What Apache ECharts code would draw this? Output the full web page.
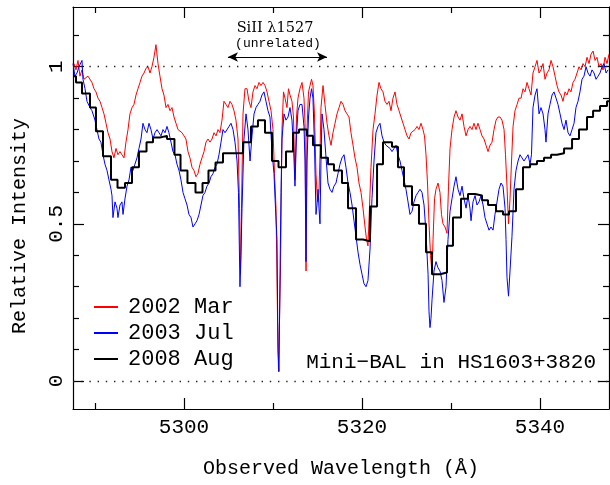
<!DOCTYPE html>
<html><head><meta charset="utf-8">
<script src="https://cdn.jsdelivr.net/npm/echarts@6/dist/echarts.min.js"></script>
<style>html,body{margin:0;padding:0;background:#fff}#c{width:610px;height:485px}</style>
</head><body><div id="c"></div>
<script>
// ---- axis ranges and ticks ----
const xMin = 5287.53, xMax = 5347.75;
const yMin = -0.089, yMax = 1.19;
const xMajor = [5300, 5320, 5340];
const xMinor = [5290, 5310, 5330];
const yMajor = [0, 0.5, 1];
const yMinor = [0.1, 0.2, 0.3, 0.4, 0.6, 0.7, 0.8, 0.9, 1.1];
const refLevels = [0, 1];
const seriesNames = ['2002 Mar', '2003 Jul', '2008 Aug'];
const siiiSpan = [5304.94, 5316.07];
const siiiLevel = 1.031;

// ---- spectra: [wavelength (Å), relative intensity] ----
const mar2002 = [[5287.64,1.01],[5287.87,0.99],[5288.09,1.02],[5288.31,0.97],[5288.54,0.99],[5288.76,0.96],[5289.21,0.97],[5289.66,0.95],[5289.89,0.93],[5290.11,0.92],[5290.34,0.90],[5290.56,0.89],[5290.79,0.87],[5291.01,0.85],[5291.24,0.82],[5291.46,0.79],[5291.69,0.77],[5291.91,0.73],[5292.13,0.71],[5292.36,0.74],[5292.58,0.72],[5292.81,0.73],[5293.03,0.72],[5293.26,0.71],[5293.48,0.76],[5293.71,0.80],[5293.93,0.85],[5294.16,0.87],[5294.38,0.88],[5294.61,0.91],[5294.83,0.93],[5295.06,0.95],[5295.28,0.97],[5295.51,0.98],[5295.73,0.995],[5295.96,1.00],[5296.18,0.98],[5296.40,1.00],[5296.63,1.03],[5296.85,1.07],[5297.08,1.01],[5297.30,0.97],[5297.53,0.93],[5297.75,0.91],[5297.98,0.87],[5298.20,0.88],[5298.43,0.86],[5298.65,0.87],[5298.88,0.84],[5299.10,0.82],[5299.33,0.80],[5299.55,0.80],[5299.78,0.79],[5300.00,0.78],[5300.22,0.77],[5300.45,0.73],[5300.67,0.71],[5300.90,0.68],[5301.12,0.67],[5301.35,0.65],[5301.57,0.66],[5301.80,0.69],[5302.02,0.71],[5302.25,0.73],[5302.47,0.76],[5302.70,0.77],[5302.92,0.76],[5303.15,0.77],[5303.37,0.79],[5303.60,0.78],[5303.82,0.80],[5304.04,0.79],[5304.27,0.83],[5304.49,0.89],[5304.72,0.88],[5304.94,0.87],[5305.17,0.89],[5305.39,0.88],[5305.62,0.86],[5305.84,0.83],[5306.07,0.77],[5306.24,0.55],[5306.35,0.34],[5306.46,0.55],[5306.63,0.85],[5306.85,0.93],[5307.08,0.93],[5307.30,0.89],[5307.53,0.87],[5307.75,0.92],[5307.98,0.94],[5308.20,0.93],[5308.43,0.95],[5308.65,0.94],[5308.88,0.95],[5309.10,0.94],[5309.33,0.92],[5309.55,0.89],[5309.78,0.86],[5310.00,0.80],[5310.17,0.66],[5310.34,0.55],[5310.51,0.20],[5310.62,0.03],[5310.73,0.03],[5310.84,0.35],[5311.01,0.80],[5311.18,0.92],[5311.35,0.90],[5311.57,0.87],[5311.74,0.93],[5311.91,0.91],[5312.13,0.89],[5312.30,0.84],[5312.47,0.64],[5312.64,0.84],[5312.81,0.90],[5313.03,0.93],[5313.26,0.95],[5313.48,0.90],[5313.60,0.82],[5313.71,0.35],[5313.82,0.80],[5313.99,0.92],[5314.16,0.94],[5314.33,0.96],[5314.49,0.94],[5314.66,0.85],[5314.83,0.66],[5315.00,0.57],[5315.17,0.60],[5315.28,0.72],[5315.39,0.87],[5315.62,0.94],[5315.84,0.88],[5316.07,0.82],[5316.29,0.78],[5316.52,0.75],[5316.74,0.79],[5316.97,0.82],[5317.19,0.85],[5317.42,0.87],[5317.64,0.89],[5317.87,0.88],[5318.09,0.86],[5318.31,0.85],[5318.54,0.84],[5318.76,0.79],[5318.99,0.75],[5319.21,0.71],[5319.44,0.68],[5319.66,0.63],[5319.89,0.60],[5320.11,0.55],[5320.34,0.49],[5320.51,0.45],[5320.67,0.43],[5320.84,0.55],[5321.01,0.68],[5321.24,0.80],[5321.46,0.85],[5321.69,0.91],[5321.91,0.95],[5322.13,0.93],[5322.36,0.92],[5322.58,0.89],[5322.81,0.88],[5323.03,0.89],[5323.26,0.86],[5323.48,0.90],[5323.71,0.92],[5323.93,0.88],[5324.16,0.86],[5324.38,0.84],[5324.61,0.82],[5324.83,0.80],[5325.06,0.78],[5325.28,0.77],[5325.51,0.79],[5325.73,0.79],[5325.96,0.80],[5326.18,0.81],[5326.40,0.80],[5326.63,0.82],[5326.85,0.80],[5327.02,0.78],[5327.19,0.72],[5327.36,0.63],[5327.53,0.50],[5327.70,0.40],[5327.87,0.34],[5327.98,0.45],[5328.15,0.58],[5328.31,0.61],[5328.54,0.63],[5328.76,0.60],[5328.93,0.53],[5329.10,0.50],[5329.33,0.49],[5329.55,0.47],[5329.72,0.62],[5329.89,0.74],[5330.11,0.80],[5330.34,0.84],[5330.56,0.86],[5330.79,0.84],[5331.01,0.83],[5331.24,0.85],[5331.46,0.81],[5331.69,0.78],[5331.91,0.80],[5332.13,0.81],[5332.36,0.80],[5332.58,0.82],[5332.81,0.80],[5333.03,0.82],[5333.26,0.80],[5333.48,0.78],[5333.71,0.77],[5333.93,0.75],[5334.16,0.73],[5334.38,0.75],[5334.61,0.76],[5334.83,0.80],[5335.06,0.83],[5335.28,0.84],[5335.51,0.84],[5335.73,0.83],[5335.96,0.80],[5336.12,0.72],[5336.29,0.62],[5336.46,0.50],[5336.63,0.58],[5336.80,0.70],[5336.97,0.81],[5337.19,0.86],[5337.42,0.88],[5337.64,0.90],[5337.87,0.90],[5338.09,0.93],[5338.31,0.92],[5338.54,0.95],[5338.76,0.93],[5338.99,0.91],[5339.21,0.98],[5339.44,1.00],[5339.66,1.02],[5339.89,0.98],[5340.11,0.99],[5340.34,1.01],[5340.56,0.96],[5340.79,0.98],[5341.01,0.99],[5341.24,1.02],[5341.46,1.00],[5341.69,0.97],[5341.91,0.94],[5342.13,0.92],[5342.36,0.91],[5342.58,0.89],[5342.81,0.92],[5343.03,0.91],[5343.26,0.93],[5343.48,0.92],[5343.71,0.95],[5343.93,0.96],[5344.16,0.98],[5344.38,1.00],[5344.61,0.99],[5344.83,1.01],[5345.06,1.00],[5345.28,1.03],[5345.51,1.01],[5345.73,1.04],[5345.96,1.05],[5346.18,1.02],[5346.40,1.03],[5346.63,1.00],[5346.85,1.01],[5347.08,0.99],[5347.30,1.03],[5347.53,1.01],[5347.75,1.04]];

const jul2003 = [[5287.53,1.01],[5287.75,0.97],[5287.98,0.98],[5288.20,1.00],[5288.54,1.02],[5288.65,0.96],[5288.88,0.93],[5289.10,0.89],[5289.44,0.87],[5289.66,0.86],[5290.00,0.83],[5290.22,0.80],[5290.45,0.77],[5290.67,0.76],[5290.90,0.72],[5291.12,0.69],[5291.35,0.67],[5291.57,0.64],[5291.80,0.61],[5291.91,0.59],[5292.02,0.52],[5292.25,0.57],[5292.47,0.55],[5292.58,0.52],[5292.81,0.56],[5293.03,0.57],[5293.15,0.53],[5293.37,0.58],[5293.60,0.62],[5293.82,0.64],[5294.04,0.68],[5294.27,0.67],[5294.49,0.69],[5294.72,0.71],[5294.94,0.74],[5295.17,0.77],[5295.39,0.82],[5295.62,0.80],[5295.84,0.79],[5296.07,0.82],[5296.29,0.80],[5296.52,0.77],[5296.74,0.79],[5296.97,0.80],[5297.19,0.79],[5297.42,0.78],[5297.64,0.80],[5297.87,0.79],[5298.09,0.81],[5298.31,0.79],[5298.54,0.76],[5298.76,0.73],[5298.99,0.72],[5299.21,0.69],[5299.44,0.67],[5299.66,0.64],[5299.89,0.60],[5300.11,0.58],[5300.34,0.56],[5300.56,0.53],[5300.79,0.52],[5301.01,0.49],[5301.24,0.50],[5301.46,0.51],[5301.69,0.53],[5301.91,0.56],[5302.13,0.59],[5302.36,0.60],[5302.58,0.62],[5302.81,0.63],[5303.03,0.65],[5303.26,0.66],[5303.48,0.68],[5303.71,0.69],[5303.93,0.72],[5304.16,0.76],[5304.38,0.80],[5304.61,0.79],[5304.83,0.79],[5305.06,0.81],[5305.28,0.82],[5305.51,0.80],[5305.73,0.76],[5305.96,0.70],[5306.12,0.60],[5306.29,0.30],[5306.40,0.40],[5306.52,0.55],[5306.74,0.77],[5306.97,0.85],[5307.19,0.80],[5307.42,0.70],[5307.64,0.78],[5307.87,0.85],[5308.09,0.87],[5308.31,0.88],[5308.54,0.89],[5308.76,0.91],[5308.99,0.92],[5309.21,0.89],[5309.44,0.86],[5309.66,0.84],[5309.89,0.73],[5310.11,0.66],[5310.28,0.55],[5310.45,0.45],[5310.56,0.10],[5310.67,0.03],[5310.79,0.34],[5310.90,0.60],[5311.01,0.77],[5311.24,0.85],[5311.46,0.83],[5311.69,0.84],[5311.91,0.87],[5312.13,0.83],[5312.30,0.75],[5312.47,0.62],[5312.64,0.78],[5312.81,0.86],[5313.03,0.88],[5313.26,0.88],[5313.48,0.81],[5313.60,0.70],[5313.71,0.38],[5313.82,0.70],[5313.99,0.84],[5314.16,0.90],[5314.33,0.93],[5314.49,0.90],[5314.66,0.75],[5314.83,0.53],[5314.94,0.56],[5315.06,0.61],[5315.17,0.55],[5315.28,0.50],[5315.39,0.70],[5315.51,0.85],[5315.73,0.80],[5315.96,0.71],[5316.18,0.63],[5316.40,0.61],[5316.63,0.60],[5316.85,0.62],[5317.08,0.63],[5317.30,0.66],[5317.53,0.69],[5317.75,0.71],[5317.98,0.72],[5318.20,0.68],[5318.43,0.63],[5318.65,0.60],[5318.88,0.56],[5319.10,0.51],[5319.33,0.46],[5319.55,0.41],[5319.78,0.37],[5320.00,0.34],[5320.22,0.31],[5320.45,0.30],[5320.67,0.32],[5320.90,0.42],[5321.12,0.58],[5321.35,0.70],[5321.57,0.79],[5321.80,0.81],[5322.02,0.82],[5322.25,0.78],[5322.47,0.76],[5322.70,0.75],[5322.92,0.75],[5323.15,0.74],[5323.37,0.73],[5323.60,0.74],[5323.82,0.75],[5324.04,0.72],[5324.27,0.70],[5324.49,0.67],[5324.72,0.64],[5324.94,0.61],[5325.17,0.57],[5325.39,0.53],[5325.62,0.54],[5325.84,0.57],[5326.07,0.59],[5326.29,0.60],[5326.52,0.61],[5326.74,0.60],[5326.97,0.56],[5327.19,0.47],[5327.42,0.34],[5327.53,0.22],[5327.64,0.17],[5327.75,0.20],[5327.87,0.26],[5328.09,0.35],[5328.31,0.38],[5328.54,0.36],[5328.76,0.35],[5328.99,0.32],[5329.21,0.25],[5329.44,0.30],[5329.66,0.45],[5329.89,0.54],[5330.11,0.58],[5330.34,0.62],[5330.56,0.65],[5330.79,0.61],[5331.01,0.59],[5331.24,0.62],[5331.46,0.58],[5331.69,0.55],[5331.91,0.59],[5332.13,0.55],[5332.25,0.51],[5332.47,0.57],[5332.70,0.59],[5332.92,0.56],[5333.15,0.57],[5333.37,0.59],[5333.60,0.56],[5333.82,0.52],[5334.04,0.50],[5334.27,0.48],[5334.49,0.49],[5334.72,0.48],[5334.94,0.53],[5335.17,0.57],[5335.39,0.61],[5335.62,0.63],[5335.84,0.62],[5336.07,0.55],[5336.18,0.45],[5336.29,0.33],[5336.46,0.27],[5336.63,0.35],[5336.85,0.46],[5337.08,0.61],[5337.30,0.67],[5337.53,0.70],[5337.75,0.72],[5337.98,0.71],[5338.20,0.70],[5338.43,0.71],[5338.65,0.72],[5338.88,0.69],[5339.04,0.72],[5339.21,0.87],[5339.44,0.91],[5339.66,0.93],[5339.89,0.85],[5340.11,0.87],[5340.34,0.85],[5340.56,0.80],[5340.67,0.76],[5340.90,0.85],[5341.12,0.88],[5341.35,0.91],[5341.57,0.92],[5341.80,0.90],[5342.02,0.88],[5342.25,0.85],[5342.47,0.82],[5342.70,0.80],[5342.92,0.83],[5343.15,0.79],[5343.37,0.78],[5343.60,0.80],[5343.82,0.82],[5344.04,0.87],[5344.27,0.89],[5344.49,0.92],[5344.72,0.96],[5344.94,0.97],[5345.17,1.00],[5345.39,0.98],[5345.62,0.97],[5345.84,0.99],[5346.07,0.98],[5346.29,0.96],[5346.52,0.97],[5346.74,0.98],[5346.97,1.00],[5347.19,1.01],[5347.42,0.98],[5347.64,0.99]];

// 2008 Aug: low-resolution binned spectrum, [bin start (Å), value]
const aug2008 = [[5287.53,0.97],[5287.87,0.95],[5288.54,0.915],[5289.44,0.87],[5290.11,0.795],[5290.90,0.715],[5291.80,0.64],[5292.53,0.615],[5293.37,0.63],[5294.16,0.68],[5294.94,0.73],[5295.79,0.76],[5296.52,0.775],[5297.30,0.78],[5298.09,0.77],[5298.93,0.72],[5299.61,0.67],[5300.39,0.63],[5301.29,0.60],[5302.08,0.63],[5302.75,0.67],[5303.54,0.695],[5304.38,0.725],[5306.63,0.76],[5307.53,0.81],[5308.31,0.83],[5309.10,0.79],[5309.89,0.70],[5310.62,0.68],[5311.46,0.73],[5312.25,0.79],[5312.92,0.80],[5313.82,0.78],[5314.49,0.75],[5315.39,0.71],[5316.18,0.69],[5316.85,0.67],[5317.75,0.63],[5318.43,0.55],[5319.33,0.45],[5320.11,0.445],[5320.90,0.555],[5321.69,0.69],[5322.36,0.76],[5323.37,0.745],[5324.04,0.68],[5324.72,0.62],[5325.62,0.56],[5326.40,0.50],[5327.19,0.41],[5327.87,0.34],[5328.76,0.345],[5329.55,0.43],[5330.22,0.52],[5331.12,0.58],[5331.91,0.595],[5332.70,0.59],[5333.48,0.575],[5334.16,0.56],[5335.06,0.54],[5335.84,0.53],[5336.52,0.54],[5337.30,0.61],[5338.09,0.68],[5338.88,0.69],[5339.66,0.70],[5340.45,0.71],[5341.24,0.72],[5341.91,0.725],[5342.70,0.74],[5343.60,0.77],[5344.38,0.80],[5345.28,0.84],[5345.96,0.86],[5346.74,0.875],[5347.53,0.89],[5347.75,0.89]];

const MONO = '"Liberation Mono", "DejaVu Sans Mono", monospace';
const SERIF = '"DejaVu Serif", "Liberation Serif", serif';
const BLACK = '#000';

function xAxisDef(position, ticks, len, showLine, showLabel, name) {
  return {
    type: 'value', position: position, min: xMin, max: xMax,
    name: name || '', nameLocation: 'middle', nameGap: 50,
    nameTextStyle: { fontFamily: MONO, fontSize: 20, color: BLACK },
    axisLine: { show: showLine, onZero: false, lineStyle: { color: BLACK, width: 1.2 } },
    axisTick: { show: true, inside: true, length: len, customValues: ticks, lineStyle: { color: BLACK, width: 1.2 } },
    axisLabel: { show: showLabel, customValues: ticks, margin: 8, fontFamily: MONO, fontSize: 21, color: BLACK,
      formatter: function (v) { return String(v); } },
    splitLine: { show: false }
  };
}
function yAxisDef(position, ticks, len, showLine, showLabel) {
  return {
    type: 'value', position: position, min: yMin, max: yMax,
    axisLine: { show: showLine, onZero: false, lineStyle: { color: BLACK, width: 1.2 } },
    axisTick: { show: true, inside: true, length: len, customValues: ticks, lineStyle: { color: BLACK, width: 1.2 } },
    axisLabel: { show: showLabel, customValues: ticks, rotate: 90, margin: 6, fontFamily: MONO, fontSize: 21, color: BLACK,
      formatter: function (v) { return String(v); } },
    splitLine: { show: false }
  };
}

const chart = echarts.init(document.getElementById('c'), null, { renderer: 'canvas' });
chart.setOption({
  animation: false,
  backgroundColor: '#fff',
  grid: { left: 73, right: 1, top: 7, bottom: 76, containLabel: false, outerBoundsMode: 'none' },
  xAxis: [
    xAxisDef('bottom', xMajor, 11, true, true, 'Observed Wavelength (Å)'),
    xAxisDef('bottom', xMinor, 6, false, false),
    xAxisDef('top', xMajor, 11, true, false),
    xAxisDef('top', xMinor, 6, false, false)
  ],
  yAxis: [
    yAxisDef('left', yMajor, 11, true, true),
    yAxisDef('left', yMinor, 6, false, false),
    yAxisDef('right', yMajor, 11, true, false),
    yAxisDef('right', yMinor, 6, false, false)
  ],
  legend: {
    orient: 'vertical', left: 89, top: 291, itemWidth: 24, itemHeight: 2, itemGap: 4,
    icon: 'rect', data: seriesNames,
    textStyle: { fontFamily: MONO, fontSize: 22, color: BLACK, padding: [0, 0, 0, 5] }
  },
  graphic: [
    { type: 'text', x: 20, y: 226, rotation: Math.PI / 2, style: { text: 'Relative Intensity', font: '20px ' + MONO, fill: BLACK, align: 'center', verticalAlign: 'middle' } },
    { type: 'text', x: 275, y: 28, style: { text: 'SiII λ1527', font: '14.5px ' + SERIF, fill: BLACK, align: 'center', verticalAlign: 'middle' } },
    { type: 'text', x: 278, y: 44, style: { text: '(unrelated)', font: '13px ' + MONO, fill: BLACK, align: 'center', verticalAlign: 'middle' } },
    { type: 'text', x: 596, y: 362, style: { text: 'Mini\u2212BAL in HS1603+3820', font: '21px ' + MONO, fill: BLACK, align: 'right', verticalAlign: 'middle' } }
  ],
  series: [
    {
      name: seriesNames[0], type: 'line', data: mar2002, showSymbol: false, symbol: 'none',
      lineStyle: { color: '#ff0000', width: 1 }, itemStyle: { color: '#ff0000' }, z: 2,
      markLine: {
        silent: true, symbol: ['none', 'none'], label: { show: false },
        lineStyle: { color: '#222', width: 1.4, type: [1.4, 6.8] },
        data: refLevels.map(function (v) { return { yAxis: v }; })
      }
    },
    {
      name: seriesNames[1], type: 'line', data: jul2003, showSymbol: false, symbol: 'none',
      lineStyle: { color: '#0000ff', width: 1 }, itemStyle: { color: '#0000ff' }, z: 3,
      markLine: {
        silent: true, symbol: ['arrow', 'arrow'], symbolSize: [7, 10], label: { show: false },
        lineStyle: { color: BLACK, width: 1, type: 'solid' },
        data: [[{ coord: [siiiSpan[0], siiiLevel] }, { coord: [siiiSpan[1], siiiLevel] }]]
      }
    },
    {
      name: seriesNames[2], type: 'line', data: aug2008, step: 'end', showSymbol: false, symbol: 'none',
      lineStyle: { color: BLACK, width: 2 }, itemStyle: { color: BLACK }, z: 4
    }
  ]
});
</script>
</body></html>
